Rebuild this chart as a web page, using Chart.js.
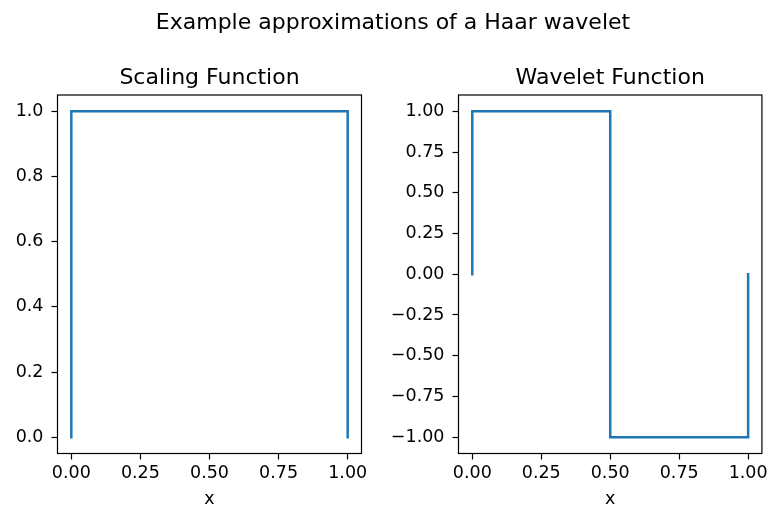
<!DOCTYPE html>
<html>
<head>
<meta charset="utf-8">
<script src="https://cdn.jsdelivr.net/npm/chart.js@4/dist/chart.umd.min.js"></script>
<style>
  html, body { margin: 0; padding: 0; background: #fff; }
  #wrap { position: relative; width: 771px; height: 511px; overflow: hidden; }
  #wrap canvas { position: absolute; left: 0; top: 0; }
  #suptitle {
    position: absolute; left: 0; width: 786px; top: 9px;
    text-align: center; font: 22px "DejaVu Sans", sans-serif; color: #000;
  }
</style>
</head>
<body>
<div id="wrap">
  <canvas id="scaling" width="771" height="511"></canvas>
  <canvas id="wavelet" width="771" height="511"></canvas>
  <div id="suptitle">Example approximations of a Haar wavelet</div>
</div>
<script>
// Haar scaling function phi(x) and wavelet psi(x) sample points
const scalingX = [0, 0, 1, 1];
const scalingY = [0, 1, 1, 0];
const waveletX = [0, 0, 0.5, 0.5, 1, 1];
const waveletY = [0, 1, 1, -1, -1, 0];

const xTicks = [0, 0.25, 0.5, 0.75, 1];
const scalingYTicks = [0, 0.2, 0.4, 0.6, 0.8, 1.0];
const waveletYTicks = [-1, -0.75, -0.5, -0.25, 0, 0.25, 0.5, 0.75, 1];

const FONT = '"DejaVu Sans", sans-serif';
const BLUE = '#1f77b4';

function zip(xs, ys) {
  return xs.map((x, i) => ({ x: x, y: ys[i] }));
}

// box around the plot area plus a title centred over it
const framePlugin = {
  id: 'frame',
  afterDraw(chart, args, opts) {
    const a = chart.chartArea;
    const ctx = chart.ctx;
    ctx.save();
    ctx.strokeStyle = '#000';
    ctx.lineWidth = 1.2;
    ctx.strokeRect(a.left, a.top, a.right - a.left, a.bottom - a.top);
    ctx.fillStyle = '#000';
    ctx.font = '22px ' + FONT;
    ctx.textAlign = 'center';
    ctx.textBaseline = 'alphabetic';
    ctx.fillText(opts.text, (a.left + a.right) / 2, a.top - 11);
    ctx.restore();
  }
};

function fmt(digits) {
  return v => Number(v).toFixed(digits).replace('-', '\u2212');
}

function makeChart(id, points, yMin, yMax, yTicks, yDigits, area) {
  return new Chart(document.getElementById(id), {
    type: 'line',
    data: {
      datasets: [{
        data: points,
        borderColor: BLUE,
        borderWidth: 2.5,
        borderJoinStyle: 'miter',
        borderCapStyle: 'square',
        pointRadius: 0,
        tension: 0,
        fill: false
      }]
    },
    options: {
      responsive: false,
      animation: false,
      events: [],
      layout: {
        padding: { left: area.padLeft, right: 771 - area.right, top: area.top, bottom: 0 }
      },
      plugins: {
        legend: { display: false },
        tooltip: { enabled: false },
        frame: { text: area.title }
      },
      scales: {
        x: {
          type: 'linear',
          min: -0.05,
          max: 1.05,
          afterBuildTicks: s => { s.ticks = xTicks.map(v => ({ value: v })); },
          afterFit: s => { s.height = 511 - area.bottom; },
          grid: { drawOnChartArea: false, tickLength: 6, tickColor: '#000', tickWidth: 1.2 },
          border: { display: false },
          ticks: { color: '#000', font: { family: FONT, size: 17.5 }, padding: 3, maxRotation: 0, callback: fmt(2) },
          title: { display: true, text: 'x', color: '#000', font: { family: FONT, size: 17.5 }, padding: { top: 0, bottom: 1 } }
        },
        y: {
          min: yMin,
          max: yMax,
          afterBuildTicks: s => { s.ticks = yTicks.map(v => ({ value: v })); },
          afterFit: s => { s.width = area.left - area.padLeft; },
          grid: { drawOnChartArea: false, tickLength: 6, tickColor: '#000', tickWidth: 1.2 },
          border: { display: false },
          ticks: { color: '#000', font: { family: FONT, size: 17.5 }, padding: 8, callback: fmt(yDigits) }
        }
      }
    },
    plugins: [framePlugin]
  });
}

makeChart('scaling', zip(scalingX, scalingY), -0.05, 1.05, scalingYTicks, 1,
  { title: 'Scaling Function', padLeft: 0, left: 57.5, right: 361.5, top: 95, bottom: 453.5 });
makeChart('wavelet', zip(waveletX, waveletY), -1.1, 1.1, waveletYTicks, 2,
  { title: 'Wavelet Function', padLeft: 383, left: 458.5, right: 762.5, top: 95, bottom: 453.5 });
</script>
</body>
</html>
